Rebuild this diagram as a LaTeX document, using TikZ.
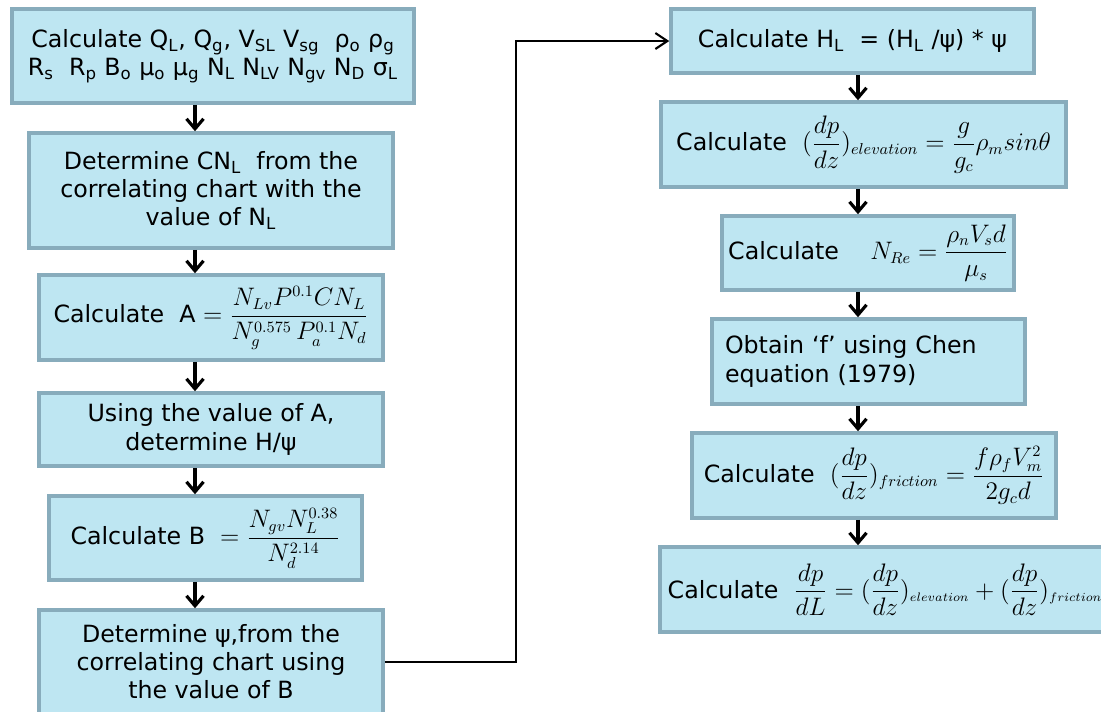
\documentclass[tikz,border=0pt]{standalone}
\usepackage{amsmath}
\usepackage[no-math]{fontspec}
\setmainfont{DejaVu Sans}
\usepackage{tikz}
\usetikzlibrary{arrows.meta}
\definecolor{boxfill}{HTML}{BEE6F2}
\definecolor{boxline}{HTML}{88ACBC}
\newcommand{\ix}[1]{\textsubscript{#1}}
\newcommand{\lo}[1]{_{\scriptscriptstyle #1}}

\begin{document}
\begin{tikzpicture}[
  font=\fontsize{13.5}{16}\selectfont,
  stepbox/.style={draw=boxline,fill=boxfill,line width=2pt,inner sep=0pt,align=center},
  flow/.style={draw=black,line width=2pt,-{Straight Barb[length=2mm,width=3.4mm,line width=1.8pt]}},
  link/.style={draw=black,line width=1.2pt,-{Straight Barb[length=2.4mm,width=3.2mm]}},
]
\useasboundingbox (0,0) rectangle (22.02,-14.22);

\coordinate (lcol) at (3.90,0);
\coordinate (rcol) at (17.16,0);
\coordinate (jog) at (10.32,-7);

\node[stepbox,minimum width=8.04cm,minimum height=1.88cm] (calc) at (4.26,-1.12)
  {Calculate Q\ix{L}, Q\ix{g}, V\ix{SL} V\ix{sg} \ ρ\ix{o} ρ\ix{g}\\R\ix{s} \ R\ix{p} B\ix{o} μ\ix{o} μ\ix{g} N\ix{L} N\ix{LV} N\ix{gv} N\ix{D} σ\ix{L}};
\node[stepbox,minimum width=7.28cm,minimum height=2.30cm] (cnl) at (4.22,-3.81)
  {Determine CN\ix{L} \ from the\\correlating chart with the\\value of N\ix{L}};
\node[stepbox,minimum width=6.88cm,minimum height=1.70cm] (calca) at (4.22,-6.35)
  {Calculate \ A $=\dfrac{N_{Lv}P^{0.1}CN_L}{N_g^{0.575}\,P_a^{0.1}N_d}$};
\node[stepbox,minimum width=6.88cm,minimum height=1.46cm] (hpsi) at (4.22,-8.59)
  {Using the value of A,\\determine H/ψ};
\node[stepbox,minimum width=6.26cm,minimum height=1.68cm] (calcb) at (4.11,-10.76)
  {Calculate B \ $=\dfrac{N_{gv}N_L^{0.38}}{N_d^{2.14}}$};
\node[stepbox,minimum width=6.88cm,minimum height=2.08cm] (psi) at (4.22,-13.24)
  {Determine ψ,from the\\correlating chart using\\the value of B};

\node[stepbox,minimum width=7.26cm,minimum height=1.28cm] (hl) at (17.05,-0.82)
  {Calculate H\ix{L} \ = (H\ix{L} /ψ) * ψ};
\node[stepbox,minimum width=8.10cm,minimum height=1.70cm] (elev) at (17.27,-2.89)
  {Calculate \ $(\dfrac{dp}{dz})_{elevation}=\dfrac{g}{g_c}\rho_m sin\theta$};
\node[stepbox,minimum width=5.84cm,minimum height=1.48cm] (nre) at (17.36,-5.06)
  {Calculate \quad $N_{Re}=\dfrac{\rho_n V_s d}{\mu_s}$};
\node[stepbox,text width=5.74cm,inner xsep=0.26cm,align=left,minimum height=1.70cm] (chen) at (17.37,-7.23)
  {Obtain ‘f’ using Chen\\equation (1979)};
\node[stepbox,minimum width=7.28cm,minimum height=1.70cm] (fric) at (17.48,-9.51)
  {Calculate \ $(\dfrac{dp}{dz})_{friction}=\dfrac{f\rho_f V_m^2}{2g_c d}$};
\node[stepbox,minimum width=9.00cm,minimum height=1.70cm] (dpdl) at (17.70,-11.79)
  {Calculate \ $\dfrac{dp}{dL}=(\dfrac{dp}{dz})\lo{elevation}+(\dfrac{dp}{dz})\lo{friction}$};

\draw[flow] (calc.south -| lcol) -- (cnl.north -| lcol);
\draw[flow] (cnl.south -| lcol) -- (calca.north -| lcol);
\draw[flow] (calca.south -| lcol) -- (hpsi.north -| lcol);
\draw[flow] (hpsi.south -| lcol) -- (calcb.north -| lcol);
\draw[flow] (calcb.south -| lcol) -- (psi.north -| lcol);

\draw[link] (psi.east) -| (jog) |- (hl.west);

\draw[flow] (hl.south -| rcol) -- (elev.north -| rcol);
\draw[flow] (elev.south -| rcol) -- (nre.north -| rcol);
\draw[flow] (nre.south -| rcol) -- (chen.north -| rcol);
\draw[flow] (chen.south -| rcol) -- (fric.north -| rcol);
\draw[flow] (fric.south -| rcol) -- (dpdl.north -| rcol);
\end{tikzpicture}
\end{document}
